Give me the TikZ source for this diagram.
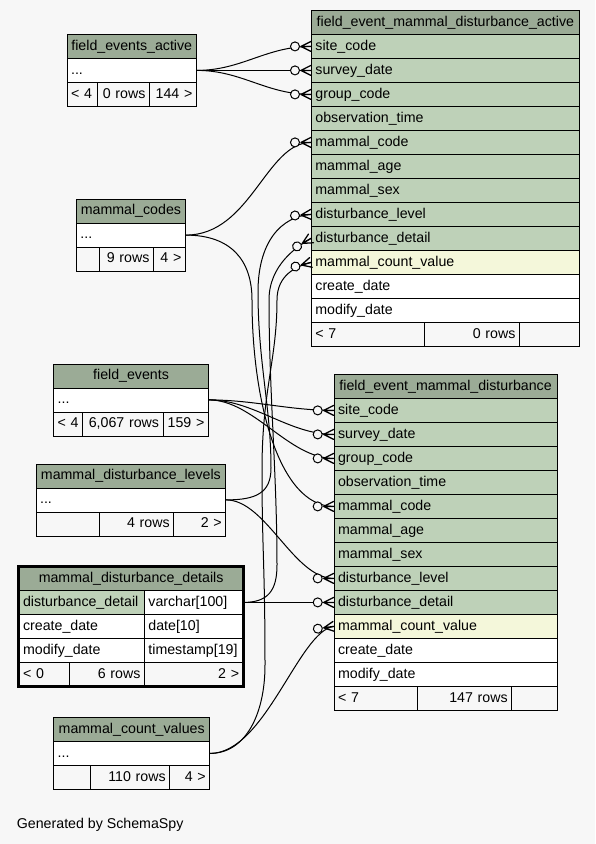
\documentclass[tikz,border=0pt]{standalone}
\usepackage{fontspec}
\setmainfont{Liberation Sans}
\usepackage{xcolor}
\usepackage{tikz}
\usetikzlibrary{decorations.markings}
\definecolor{headc}{HTML}{9BAB96}
\definecolor{keyc}{HTML}{BED1B8}
\definecolor{idxc}{HTML}{F4F7DA}
\definecolor{bgc}{HTML}{F7F7F7}
\newcommand{\cellfont}{\fontsize{14.2}{17}\selectfont}
\tikzset{cellbox/.style={draw,line width=0.8pt,anchor=north west,inner xsep=4pt,inner ysep=0pt,
    minimum height=24pt,text height=10.5pt,text depth=3pt,font=\cellfont},
  fk/.style={line width=1pt,postaction={decorate},decoration={markings,
    mark=at position 0.9999 with {\draw[line width=1pt,fill=bgc] (-16,0) circle (4.5pt);
      \draw[line width=1.3pt,line cap=round] (-10,0) -- (0,5) (-10,0) -- (0,0) (-10,0) -- (0,-5);}}}}
\newcommand{\tabcell}[7]{%
  \pgfmathsetmacro{\cellw}{#4-8}%
  \node[cellbox,fill=#5,align=#6,text width=\cellw pt] (#1) at (#2,#3) {#7};}

\begin{document}
\begin{tikzpicture}[x=1pt,y=-1pt]
	\fill[bgc] (0,0) rectangle (595,844);
	\useasboundingbox (0,0) rectangle (595,844);
	%
	% the two child tables
	\tabcell{fema}{311}{10}{268}{headc}{center}{field\_event\_mammal\_disturbance\_active}
	\tabcell{fem}{333.7}{374}{223}{headc}{center}{field\_event\_mammal\_disturbance}
	\foreach \tb/\tx/\ty/\tw in {fema/311/34/268, fem/333.7/398/223}{
		\foreach \nm/\txt/\col [count=\i from 0] in {site/site\_code/keyc, survey/survey\_date/keyc,
			group/group\_code/keyc, obs/observation\_time/keyc, mcode/mammal\_code/keyc,
			age/mammal\_age/keyc, sex/mammal\_sex/keyc, dlevel/disturbance\_level/keyc,
			ddetail/disturbance\_detail/keyc, count/mammal\_count\_value/idxc,
			create/create\_date/white, modify/modify\_date/white}{
			\pgfmathsetmacro{\yy}{\ty+24*\i}
			\tabcell{\tb-\nm}{\tx}{\yy}{\tw}{\col}{left}{\txt}
		}
	}
	\tabcell{fema-f1}{311}{322}{113.3}{bgc}{left}{< 7}
	\tabcell{fema-f2}{424.3}{322}{94.7}{bgc}{right}{0 rows}
	\tabcell{fema-f3}{519}{322}{60}{bgc}{left}{}
	\tabcell{fem-f1}{333.7}{686}{83}{bgc}{left}{< 7}
	\tabcell{fem-f2}{416.7}{686}{94.6}{bgc}{right}{147 rows}
	\tabcell{fem-f3}{511.3}{686}{45.4}{bgc}{left}{}
	%
	% parent tables
	\tabcell{fea}{66.7}{34}{129.3}{headc}{center}{field\_events\_active}
	\tabcell{fea-dots}{66.7}{58}{129.3}{white}{left}{...}
	\tabcell{fea-f1}{66.7}{82}{30.3}{bgc}{left}{< 4}
	\tabcell{fea-f2}{97}{82}{52}{bgc}{right}{0 rows}
	\tabcell{fea-f3}{149}{82}{47}{bgc}{right}{144 >}
	%
	\tabcell{mc}{76}{198.7}{109}{headc}{center}{mammal\_codes}
	\tabcell{mc-dots}{76}{222.7}{109}{white}{left}{...}
	\tabcell{mc-f1}{76}{246.7}{23}{bgc}{left}{}
	\tabcell{mc-f2}{99}{246.7}{54}{bgc}{right}{9 rows}
	\tabcell{mc-f3}{153}{246.7}{32}{bgc}{right}{4 >}
	%
	\tabcell{fe}{53.3}{363.5}{154.7}{headc}{center}{field\_events}
	\tabcell{fe-dots}{53.3}{387.5}{154.7}{white}{left}{...}
	\tabcell{fe-f1}{53.3}{411.5}{29}{bgc}{left}{< 4}
	\tabcell{fe-f2}{82.3}{411.5}{80.4}{bgc}{right}{6,067 rows}
	\tabcell{fe-f3}{162.7}{411.5}{45.3}{bgc}{right}{159 >}
	%
	\tabcell{mdl}{35.7}{463.5}{189.6}{headc}{center}{mammal\_disturbance\_levels}
	\tabcell{mdl-dots}{35.7}{487.5}{189.6}{white}{left}{...}
	\tabcell{mdl-f1}{35.7}{511.5}{63}{bgc}{left}{}
	\tabcell{mdl-f2}{98.7}{511.5}{74.6}{bgc}{right}{4 rows}
	\tabcell{mdl-f3}{173.3}{511.5}{52}{bgc}{right}{2 >}
	%
	\tabcell{mdd}{18.7}{566}{224}{headc}{center}{mammal\_disturbance\_details}
	\tabcell{mdd-name}{18.7}{590}{125.3}{keyc}{left}{disturbance\_detail}
	\tabcell{mdd-type}{144}{590}{98.7}{white}{left}{varchar[100]}
	\tabcell{mdd-cname}{18.7}{614}{125.3}{white}{left}{create\_date}
	\tabcell{mdd-ctype}{144}{614}{98.7}{white}{left}{date[10]}
	\tabcell{mdd-mname}{18.7}{638}{125.3}{white}{left}{modify\_date}
	\tabcell{mdd-mtype}{144}{638}{98.7}{white}{left}{timestamp[19]}
	\tabcell{mdd-f1}{18.7}{662}{50.6}{bgc}{left}{< 0}
	\tabcell{mdd-f2}{69.3}{662}{74.7}{bgc}{right}{6 rows}
	\tabcell{mdd-f3}{144}{662}{98.7}{bgc}{right}{2 >}
	%
	\tabcell{mcv}{53.3}{717}{156}{headc}{center}{mammal\_count\_values}
	\tabcell{mcv-dots}{53.3}{741}{156}{white}{left}{...}
	\tabcell{mcv-f1}{53.3}{765}{37}{bgc}{left}{}
	\tabcell{mcv-f2}{90.3}{765}{79}{bgc}{right}{110 rows}
	\tabcell{mcv-f3}{169.3}{765}{40}{bgc}{right}{4 >}
	%
	% foreign keys
	\draw[fk] (fea-dots.east) .. controls +(45,0) and +(-45,0) .. (fema-site.west);
	\draw[fk] (fea-dots.east) .. controls +(45,0) and +(-45,0) .. (fema-survey.west);
	\draw[fk] (fea-dots.east) .. controls +(45,0) and +(-45,0) .. (fema-group.west);
	\draw[fk] (mc-dots.east) .. controls +(65,0) and +(-45,0) .. (fema-mcode.west);
	\draw[fk] (mdl-dots.east) .. controls +(30,0) and +(0,25) .. (271,468)
		.. controls +(0,-60) and +(0,70) .. (258,292)
		.. controls +(0,-50) and +(-30,2) .. (fema-dlevel.west);
	\draw[fk] (mdd-type.east) .. controls +(25,0) and +(0,25) .. (277,565)
		.. controls +(0,-90) and +(0,90) .. (269,300)
		.. controls +(0,-35) and +(-14,8) .. (fema-ddetail.west);
	\draw[fk] (mcv-dots.east) .. controls +(35,0) and +(0,50) .. (265,665)
		.. controls +(0,-100) and +(0,80) .. (262,470)
		.. controls +(0,-80) and +(0,60) .. (277,300)
		.. controls +(0,-25) and +(-15,4) .. (fema-count.west);
	%
	\draw[fk] (fe-dots.east) .. controls +(45,0) and +(-45,0) .. (fem-site.west);
	\draw[fk] (fe-dots.east) .. controls +(45,0) and +(-45,0) .. (fem-survey.west);
	\draw[fk] (fe-dots.east) .. controls +(45,0) and +(-45,0) .. (fem-group.west);
	\draw[fk] (mc-dots.east) .. controls +(45,0) and +(0,-40) .. (252,300)
		.. controls +(0,100) and +(-55,0) .. (fem-mcode.west);
	\draw[fk] (mdl-dots.east) .. controls +(40,0) and +(-40,0) .. (fem-dlevel.west);
	\draw[fk] (mdd-type.east) -- (fem-ddetail.west);
	\draw[fk] (mcv-dots.east) .. controls +(55,0) and +(-35,5) .. (fem-count.west);
	%
	\draw[line width=3pt] (18.2,566.3) rectangle (243.4,686.5);
	\node[anchor=base west,font=\cellfont,inner sep=0pt] (credit) at (16.7,828.3) {Generated by SchemaSpy};
\end{tikzpicture}
\end{document}
